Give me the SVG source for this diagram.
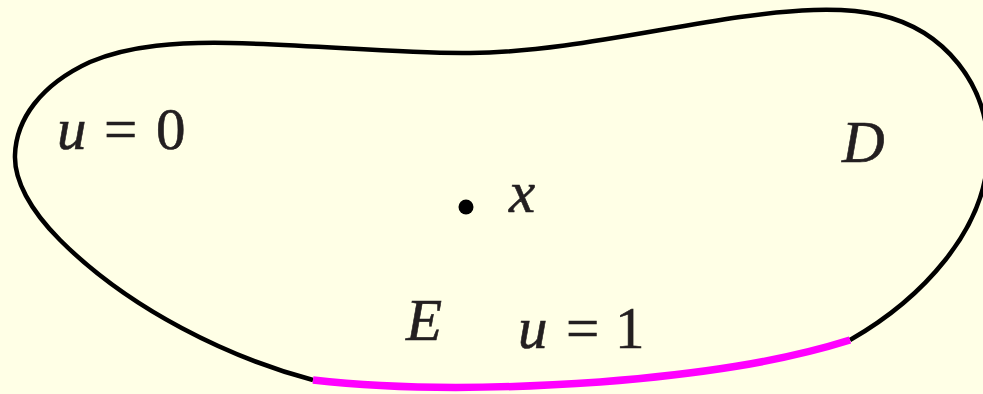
<svg xmlns="http://www.w3.org/2000/svg" width="983" height="394" viewBox="0 0 983 394">
<style>
.lbl{font-family:"Liberation Serif","Times New Roman",serif;font-size:59px;fill:#231f20;stroke:#231f20;stroke-width:0.6}
.it{font-style:italic}
.bd{fill:none;stroke:#000;stroke-width:4.5;stroke-linecap:butt}
.e{fill:none;stroke:#ff00ff;stroke-width:7.5;stroke-linecap:butt}
</style>
<rect x="0" y="0" width="983" height="394" fill="#ffffe6"/>
<g id="connectors">
<path id="boundary" class="bd" d="M 313,380 C 230,358 130,310 60,240 C 30,210 14,180 15,155 C 16,120 40,85 90,62 C 130,45 180,42 230,43 C 320,45 400,54 470,53 C 560,52 650,30 740,17 C 790,10 840,6 880,15 C 945,30 988,85 988,150 C 988,230 920,300 850,340"/>
<path id="boundary-E" class="e" d="M 850,340 C 780,362 700,374 600,382 C 500,389 400,390 313,380"/>
</g>
<g id="point-x">
<circle cx="466" cy="207" r="7.5" fill="#000"/>
<text class="lbl it" x="509" y="212">x</text>
</g>
<g id="label-u0">
<text class="lbl" y="149"><tspan class="it" x="57">u</tspan><tspan x="104">=</tspan><tspan x="156">0</tspan></text>
</g>
<g id="label-D">
<text class="lbl it" x="842" y="162">D</text>
</g>
<g id="label-E">
<text class="lbl it" x="406" y="340">E</text>
</g>
<g id="label-u1">
<text class="lbl" y="348"><tspan class="it" x="518">u</tspan><tspan x="566">=</tspan><tspan x="615">1</tspan></text>
</g>
</svg>
